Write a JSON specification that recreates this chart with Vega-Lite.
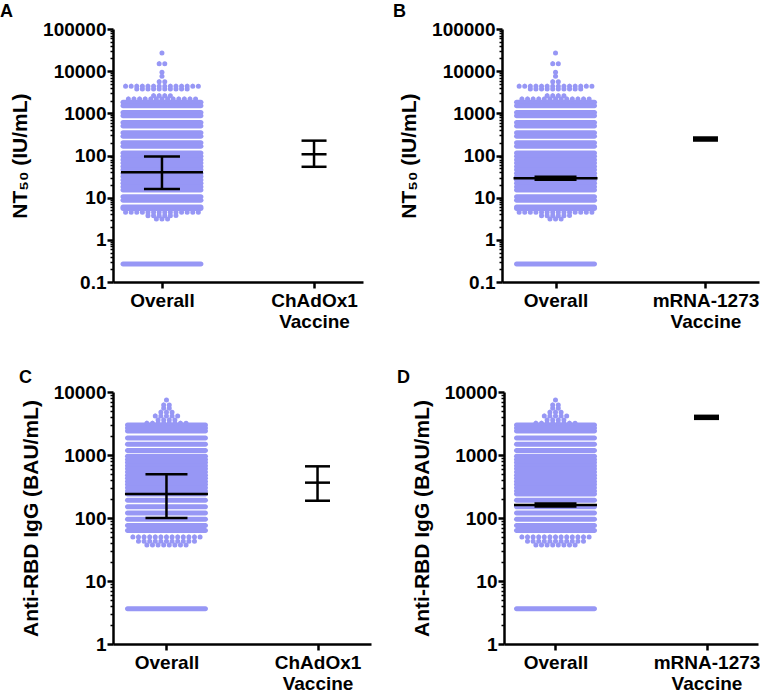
{
  "$schema": "https://vega.github.io/schema/vega-lite/v6.json",
  "background": "white",
  "padding": {"left": 0, "top": 3, "right": 0, "bottom": 0},
  "datasets": {
    "nt": [
      {"g": "Overall", "v": 27000, "n": 1},
      {"g": "Overall", "v": 15000, "n": 2},
      {"g": "Overall", "v": 9400, "n": 1},
      {"g": "Overall", "v": 7550, "n": 1},
      {"g": "Overall", "v": 5600, "n": 2},
      {"g": "Overall", "v": 4380, "n": 14},
      {"g": "Overall", "v": 3780, "n": 10},
      {"g": "Overall", "v": 2620, "n": 4},
      {"g": "Overall", "v": 2190, "n": 13},
      {"g": "Overall", "v": 1820, "n": 15},
      {"g": "Overall", "v": 1514, "n": 15},
      {"g": "Overall", "v": 1047, "n": 15},
      {"g": "Overall", "v": 871, "n": 15},
      {"g": "Overall", "v": 603, "n": 15},
      {"g": "Overall", "v": 501, "n": 15},
      {"g": "Overall", "v": 347, "n": 15},
      {"g": "Overall", "v": 288, "n": 15},
      {"g": "Overall", "v": 200, "n": 15},
      {"g": "Overall", "v": 166, "n": 15},
      {"g": "Overall", "v": 115, "n": 15},
      {"g": "Overall", "v": 95.5, "n": 15},
      {"g": "Overall", "v": 79.4, "n": 15},
      {"g": "Overall", "v": 66.1, "n": 15},
      {"g": "Overall", "v": 55.0, "n": 15},
      {"g": "Overall", "v": 45.7, "n": 15},
      {"g": "Overall", "v": 38.0, "n": 15},
      {"g": "Overall", "v": 31.6, "n": 15},
      {"g": "Overall", "v": 26.3, "n": 15},
      {"g": "Overall", "v": 21.9, "n": 15},
      {"g": "Overall", "v": 18.2, "n": 15},
      {"g": "Overall", "v": 15.1, "n": 15},
      {"g": "Overall", "v": 10.5, "n": 15},
      {"g": "Overall", "v": 8.7, "n": 15},
      {"g": "Overall", "v": 6.0, "n": 15},
      {"g": "Overall", "v": 5.5, "n": 15},
      {"g": "Overall", "v": 4.49, "n": 14},
      {"g": "Overall", "v": 3.75, "n": 6},
      {"g": "Overall", "v": 3.12, "n": 3},
      {"g": "Overall", "v": 0.267, "n": 15}
    ],
    "rbd": [
      {"g": "Overall", "v": 7460, "n": 1},
      {"g": "Overall", "v": 6220, "n": 2},
      {"g": "Overall", "v": 5510, "n": 2},
      {"g": "Overall", "v": 4760, "n": 3},
      {"g": "Overall", "v": 4160, "n": 5},
      {"g": "Overall", "v": 3590, "n": 4},
      {"g": "Overall", "v": 3190, "n": 8},
      {"g": "Overall", "v": 2990, "n": 15},
      {"g": "Overall", "v": 2690, "n": 15},
      {"g": "Overall", "v": 2400, "n": 15},
      {"g": "Overall", "v": 1860, "n": 15},
      {"g": "Overall", "v": 1480, "n": 15},
      {"g": "Overall", "v": 1175, "n": 15},
      {"g": "Overall", "v": 955, "n": 15},
      {"g": "Overall", "v": 851, "n": 15},
      {"g": "Overall", "v": 759, "n": 15},
      {"g": "Overall", "v": 676, "n": 15},
      {"g": "Overall", "v": 603, "n": 15},
      {"g": "Overall", "v": 537, "n": 15},
      {"g": "Overall", "v": 479, "n": 15},
      {"g": "Overall", "v": 427, "n": 15},
      {"g": "Overall", "v": 380, "n": 15},
      {"g": "Overall", "v": 339, "n": 15},
      {"g": "Overall", "v": 302, "n": 15},
      {"g": "Overall", "v": 269, "n": 15},
      {"g": "Overall", "v": 240, "n": 15},
      {"g": "Overall", "v": 191, "n": 15},
      {"g": "Overall", "v": 151, "n": 15},
      {"g": "Overall", "v": 120, "n": 15},
      {"g": "Overall", "v": 95.5, "n": 15},
      {"g": "Overall", "v": 75.9, "n": 15},
      {"g": "Overall", "v": 63.1, "n": 15},
      {"g": "Overall", "v": 50.1, "n": 13},
      {"g": "Overall", "v": 42.7, "n": 11},
      {"g": "Overall", "v": 37.2, "n": 8},
      {"g": "Overall", "v": 3.64, "n": 15}
    ],
    "eb": [
      {"p": "A", "g": "Overall", "med": 40, "lo": 16, "hi": 95},
      {"p": "A", "g": "ChAdOx1 Vaccine", "med": 107, "lo": 54, "hi": 225},
      {"p": "B", "g": "Overall", "med": 28.7},
      {"p": "B", "g": "mRNA-1273 Vaccine", "med": 246},
      {"p": "C", "g": "Overall", "med": 240, "lo": 100, "hi": 493},
      {"p": "C", "g": "ChAdOx1 Vaccine", "med": 364, "lo": 188, "hi": 661},
      {"p": "D", "g": "Overall", "med": 161},
      {"p": "D", "g": "mRNA-1273 Vaccine", "med": 3960}
    ]
  },
  "spacing": 38,
  "vconcat": [
    {
      "spacing": 30,
      "hconcat": [
        {
          "width": 250, "height": 253,
          "title": {"text": "A", "dx": -113, "offset": -1},
          "encoding": {"x": {"field": "g", "type": "nominal", "scale": {"type": "point", "domain": ["Overall", "ChAdOx1 Vaccine"], "padding": 0.322}, "axis": {"title": null, "labelAngle": 0, "labelExpr": "split(datum.label, ' ')", "tickSize": 6, "labelPadding": 3, "labelLineHeight": 21, "labelBaseline": "top"}}},
          "resolve": {"scale": {"size": "independent"}},
          "layer": [
            {
              "data": {"name": "nt"},
              "transform": [{"filter": "datum.n >= 15"}],
              "mark": {"type": "tick", "size": 83, "thickness": 5, "cornerRadius": 2.5, "color": "#9797f5", "opacity": 1},
              "encoding": {"y": {"field": "v", "type": "quantitative", "scale": {"type": "log", "domain": [0.1, 100000], "nice": false},
                "axis": {"title": "NT₅₀ (IU/mL)", "format": "~g", "titlePadding": 12, "labelPadding": 1,
                  "values": [0.1,0.2,0.3,0.4,0.5,0.6,0.7,0.8,0.9,1,2,3,4,5,6,7,8,9,10,20,30,40,50,60,70,80,90,100,200,300,400,500,600,700,800,900,1000,2000,3000,4000,5000,6000,7000,8000,9000,10000,20000,30000,40000,50000,60000,70000,80000,90000,100000],
                  "labelExpr": "indexof([0.1,1,10,100,1000,10000,100000], datum.value) >= 0 ? datum.label : ''",
                  "tickSize": {"condition": {"test": "indexof([0.1,1,10,100,1000,10000,100000], datum.value) >= 0", "value": 6}, "value": 3},
                  "tickWidth": {"condition": {"test": "indexof([0.1,1,10,100,1000,10000,100000], datum.value) >= 0", "value": 2.5}, "value": 1.5}}}}
            },
            {
              "data": {"name": "nt"},
              "transform": [{"filter": "datum.n < 15"}],
              "mark": {"type": "tick", "thickness": 0.01, "filled": false, "stroke": "#9797f5", "strokeWidth": 5, "strokeDash": [0, 5.6], "strokeCap": "round", "opacity": 1},
              "encoding": {"y": {"field": "v", "type": "quantitative"}, "size": {"field": "n", "type": "quantitative", "scale": {"domain": [1, 15], "range": [0, 78.4], "zero": false}, "legend": null}}
            },
            {
              "data": {"name": "eb"},
              "transform": [{"filter": "datum.p == 'A'"}],
              "mark": {"type": "rule", "strokeWidth": 2.5, "color": "black"},
              "encoding": {"y": {"field": "lo", "type": "quantitative"}, "y2": {"field": "hi"}}
            },
            {
              "data": {"name": "eb"},
              "transform": [{"filter": "datum.p == 'A'"}],
              "mark": {"type": "tick", "thickness": 2.5, "color": "black", "opacity": 1},
              "encoding": {"y": {"field": "med", "type": "quantitative"}, "size": {"field": "g", "type": "nominal", "scale": {"domain": ["Overall", "ChAdOx1 Vaccine"], "range": [82, 25]}, "legend": null}}
            },
            {
              "data": {"name": "eb"},
              "transform": [{"filter": "datum.p == 'A'"}],
              "mark": {"type": "tick", "thickness": 2.5, "color": "black", "opacity": 1},
              "encoding": {"y": {"field": "lo", "type": "quantitative"}, "size": {"field": "g", "type": "nominal", "scale": {"domain": ["Overall", "ChAdOx1 Vaccine"], "range": [36, 25]}, "legend": null}}
            },
            {
              "data": {"name": "eb"},
              "transform": [{"filter": "datum.p == 'A'"}],
              "mark": {"type": "tick", "thickness": 2.5, "color": "black", "opacity": 1},
              "encoding": {"y": {"field": "hi", "type": "quantitative"}, "size": {"field": "g", "type": "nominal", "scale": {"domain": ["Overall", "ChAdOx1 Vaccine"], "range": [36, 25]}, "legend": null}}
            }
          ]
        },
        {
          "width": 257, "height": 253,
          "title": {"text": "B", "dx": -109, "offset": -1},
          "encoding": {"x": {"field": "g", "type": "nominal", "scale": {"type": "point", "domain": ["Overall", "mRNA-1273 Vaccine"], "padding": 0.357}, "axis": {"title": null, "labelAngle": 0, "labelExpr": "split(datum.label, ' ')", "tickSize": 6, "labelPadding": 3, "labelLineHeight": 21, "labelBaseline": "top"}}},
          "resolve": {"scale": {"size": "independent"}},
          "layer": [
            {
              "data": {"name": "nt"},
              "transform": [{"filter": "datum.n >= 15"}],
              "mark": {"type": "tick", "size": 83, "thickness": 5, "cornerRadius": 2.5, "color": "#9797f5", "opacity": 1},
              "encoding": {"y": {"field": "v", "type": "quantitative", "scale": {"type": "log", "domain": [0.1, 100000], "nice": false},
                "axis": {"title": "NT₅₀ (IU/mL)", "format": "~g", "titlePadding": 12, "labelPadding": 1,
                  "values": [0.1,0.2,0.3,0.4,0.5,0.6,0.7,0.8,0.9,1,2,3,4,5,6,7,8,9,10,20,30,40,50,60,70,80,90,100,200,300,400,500,600,700,800,900,1000,2000,3000,4000,5000,6000,7000,8000,9000,10000,20000,30000,40000,50000,60000,70000,80000,90000,100000],
                  "labelExpr": "indexof([0.1,1,10,100,1000,10000,100000], datum.value) >= 0 ? datum.label : ''",
                  "tickSize": {"condition": {"test": "indexof([0.1,1,10,100,1000,10000,100000], datum.value) >= 0", "value": 6}, "value": 3},
                  "tickWidth": {"condition": {"test": "indexof([0.1,1,10,100,1000,10000,100000], datum.value) >= 0", "value": 2.5}, "value": 1.5}}}}
            },
            {
              "data": {"name": "nt"},
              "transform": [{"filter": "datum.n < 15"}],
              "mark": {"type": "tick", "thickness": 0.01, "filled": false, "stroke": "#9797f5", "strokeWidth": 5, "strokeDash": [0, 5.6], "strokeCap": "round", "opacity": 1},
              "encoding": {"y": {"field": "v", "type": "quantitative"}, "size": {"field": "n", "type": "quantitative", "scale": {"domain": [1, 15], "range": [0, 78.4], "zero": false}, "legend": null}}
            },
            {
              "data": {"name": "eb"},
              "transform": [{"filter": "datum.p == 'B' && datum.g == 'Overall'"}],
              "mark": {"type": "tick", "thickness": 2.5, "size": 84, "color": "black", "opacity": 1},
              "encoding": {"y": {"field": "med", "type": "quantitative"}}
            },
            {
              "data": {"name": "eb"},
              "transform": [{"filter": "datum.p == 'B'"}],
              "mark": {"type": "tick", "thickness": 5.5, "color": "black", "opacity": 1},
              "encoding": {"y": {"field": "med", "type": "quantitative"}, "size": {"field": "g", "type": "nominal", "scale": {"domain": ["Overall", "mRNA-1273 Vaccine"], "range": [42, 25]}, "legend": null}}
            }
          ]
        }
      ]
    },
    {
      "spacing": 26,
      "hconcat": [
        {
          "width": 258, "height": 252,
          "title": {"text": "C", "dx": -94, "offset": -4},
          "encoding": {"x": {"field": "g", "type": "nominal", "scale": {"type": "point", "domain": ["Overall", "ChAdOx1 Vaccine"], "padding": 0.354}, "axis": {"title": null, "labelAngle": 0, "labelExpr": "split(datum.label, ' ')", "tickSize": 6, "labelPadding": 3, "labelLineHeight": 21, "labelBaseline": "top"}}},
          "resolve": {"scale": {"size": "independent"}},
          "layer": [
            {
              "data": {"name": "rbd"},
              "transform": [{"filter": "datum.n >= 15"}],
              "mark": {"type": "tick", "size": 83, "thickness": 5, "cornerRadius": 2.5, "color": "#9797f5", "opacity": 1},
              "encoding": {"y": {"field": "v", "type": "quantitative", "scale": {"type": "log", "domain": [1, 10000], "nice": false},
                "axis": {"title": "Anti-RBD IgG (BAU/mL)", "format": "~g", "titlePadding": 12, "labelPadding": 1,
                  "values": [1,2,3,4,5,6,7,8,9,10,20,30,40,50,60,70,80,90,100,200,300,400,500,600,700,800,900,1000,2000,3000,4000,5000,6000,7000,8000,9000,10000],
                  "labelExpr": "indexof([1,10,100,1000,10000], datum.value) >= 0 ? datum.label : ''",
                  "tickSize": {"condition": {"test": "indexof([1,10,100,1000,10000], datum.value) >= 0", "value": 6}, "value": 3},
                  "tickWidth": {"condition": {"test": "indexof([1,10,100,1000,10000], datum.value) >= 0", "value": 2.5}, "value": 1.5}}}}
            },
            {
              "data": {"name": "rbd"},
              "transform": [{"filter": "datum.n < 15"}],
              "mark": {"type": "tick", "thickness": 0.01, "filled": false, "stroke": "#9797f5", "strokeWidth": 5, "strokeDash": [0, 5.6], "strokeCap": "round", "opacity": 1},
              "encoding": {"y": {"field": "v", "type": "quantitative"}, "size": {"field": "n", "type": "quantitative", "scale": {"domain": [1, 15], "range": [0, 78.4], "zero": false}, "legend": null}}
            },
            {
              "data": {"name": "eb"},
              "transform": [{"filter": "datum.p == 'C'"}],
              "mark": {"type": "rule", "strokeWidth": 2.5, "color": "black"},
              "encoding": {"y": {"field": "lo", "type": "quantitative"}, "y2": {"field": "hi"}}
            },
            {
              "data": {"name": "eb"},
              "transform": [{"filter": "datum.p == 'C'"}],
              "mark": {"type": "tick", "thickness": 2.5, "color": "black", "opacity": 1},
              "encoding": {"y": {"field": "med", "type": "quantitative"}, "size": {"field": "g", "type": "nominal", "scale": {"domain": ["Overall", "ChAdOx1 Vaccine"], "range": [83, 25]}, "legend": null}}
            },
            {
              "data": {"name": "eb"},
              "transform": [{"filter": "datum.p == 'C'"}],
              "mark": {"type": "tick", "thickness": 2.5, "color": "black", "opacity": 1},
              "encoding": {"y": {"field": "lo", "type": "quantitative"}, "size": {"field": "g", "type": "nominal", "scale": {"domain": ["Overall", "ChAdOx1 Vaccine"], "range": [42, 25]}, "legend": null}}
            },
            {
              "data": {"name": "eb"},
              "transform": [{"filter": "datum.p == 'C'"}],
              "mark": {"type": "tick", "thickness": 2.5, "color": "black", "opacity": 1},
              "encoding": {"y": {"field": "hi", "type": "quantitative"}, "size": {"field": "g", "type": "nominal", "scale": {"domain": ["Overall", "ChAdOx1 Vaccine"], "range": [42, 25]}, "legend": null}}
            }
          ]
        },
        {
          "width": 254, "height": 252,
          "title": {"text": "D", "dx": -107, "offset": -4},
          "encoding": {"x": {"field": "g", "type": "nominal", "scale": {"type": "point", "domain": ["Overall", "mRNA-1273 Vaccine"], "padding": 0.341}, "axis": {"title": null, "labelAngle": 0, "labelExpr": "split(datum.label, ' ')", "tickSize": 6, "labelPadding": 3, "labelLineHeight": 21, "labelBaseline": "top"}}},
          "resolve": {"scale": {"size": "independent"}},
          "layer": [
            {
              "data": {"name": "rbd"},
              "transform": [{"filter": "datum.n >= 15"}],
              "mark": {"type": "tick", "size": 83, "thickness": 5, "cornerRadius": 2.5, "color": "#9797f5", "opacity": 1},
              "encoding": {"y": {"field": "v", "type": "quantitative", "scale": {"type": "log", "domain": [1, 10000], "nice": false},
                "axis": {"title": "Anti-RBD IgG (BAU/mL)", "format": "~g", "titlePadding": 12, "labelPadding": 1,
                  "values": [1,2,3,4,5,6,7,8,9,10,20,30,40,50,60,70,80,90,100,200,300,400,500,600,700,800,900,1000,2000,3000,4000,5000,6000,7000,8000,9000,10000],
                  "labelExpr": "indexof([1,10,100,1000,10000], datum.value) >= 0 ? datum.label : ''",
                  "tickSize": {"condition": {"test": "indexof([1,10,100,1000,10000], datum.value) >= 0", "value": 6}, "value": 3},
                  "tickWidth": {"condition": {"test": "indexof([1,10,100,1000,10000], datum.value) >= 0", "value": 2.5}, "value": 1.5}}}}
            },
            {
              "data": {"name": "rbd"},
              "transform": [{"filter": "datum.n < 15"}],
              "mark": {"type": "tick", "thickness": 0.01, "filled": false, "stroke": "#9797f5", "strokeWidth": 5, "strokeDash": [0, 5.6], "strokeCap": "round", "opacity": 1},
              "encoding": {"y": {"field": "v", "type": "quantitative"}, "size": {"field": "n", "type": "quantitative", "scale": {"domain": [1, 15], "range": [0, 78.4], "zero": false}, "legend": null}}
            },
            {
              "data": {"name": "eb"},
              "transform": [{"filter": "datum.p == 'D' && datum.g == 'Overall'"}],
              "mark": {"type": "tick", "thickness": 2.5, "size": 83, "color": "black", "opacity": 1},
              "encoding": {"y": {"field": "med", "type": "quantitative"}}
            },
            {
              "data": {"name": "eb"},
              "transform": [{"filter": "datum.p == 'D'"}],
              "mark": {"type": "tick", "thickness": 5.5, "color": "black", "opacity": 1},
              "encoding": {"y": {"field": "med", "type": "quantitative"}, "size": {"field": "g", "type": "nominal", "scale": {"domain": ["Overall", "mRNA-1273 Vaccine"], "range": [42, 25]}, "legend": null}}
            }
          ]
        }
      ]
    }
  ],
  "config": {
    "font": "Liberation Sans",
    "view": {"stroke": null},
    "title": {"font": "Liberation Sans", "fontSize": 18, "fontWeight": "bold", "color": "black", "anchor": "start", "frame": "group", "baseline": "alphabetic"},
    "axis": {"grid": false, "labelFont": "Liberation Sans", "labelFontSize": 19, "labelFontWeight": "bold", "labelColor": "black", "titleFont": "Liberation Sans", "titleFontSize": 21, "titleFontWeight": "bold", "titleColor": "black", "domainColor": "black", "domainWidth": 2.5, "tickColor": "black", "tickWidth": 2.5}
  }
}
